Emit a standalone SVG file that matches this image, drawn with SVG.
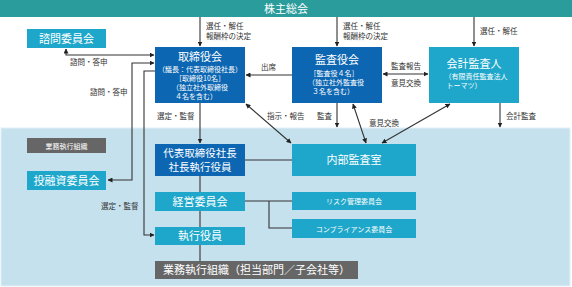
<svg xmlns="http://www.w3.org/2000/svg" width="572" height="287" viewBox="0 0 572 287">
<defs>
<marker id="ah" viewBox="0 0 10 10" refX="9" refY="5" markerWidth="5" markerHeight="5" orient="auto-start-reverse" markerUnits="userSpaceOnUse">
<path d="M0,0 L10,5 L0,10 z" fill="#222"/>
</marker>
<style>
text{font-family:"Noto Sans CJK JP","Noto Sans",sans-serif;}
.w{fill:#fff;text-anchor:middle;}
.lb{fill:#333;font-size:7.5px;}
.s{font-size:7px;}
.c{stroke:#333;stroke-width:1.1;fill:none;}
.a{marker-end:url(#ah);}
.b{marker-start:url(#ah);marker-end:url(#ah);}
.dk{fill:#0c66b2;}
.lt{fill:#1ea7ca;}
.gr{fill:#666;}
</style>
</defs>
<rect x="0" y="0" width="572" height="287" fill="#fff"/>
<rect x="1" y="128" width="569" height="158" fill="#c6e1ee" stroke="#e2f0f7" stroke-width="1"/>

<g id="shareholders">
<rect x="0" y="0" width="572" height="17" fill="#2b9c9c"/>
<text class="w" x="286" y="13" font-size="11">株主総会</text>
</g>

<g id="connectors">
<line class="c a" x1="200" y1="17" x2="200" y2="46"/>
<line class="c a" x1="337" y1="17" x2="337" y2="46"/>
<line class="c a" x1="474" y1="17" x2="474" y2="46"/>
<polyline class="c b" points="66,49 66,55 154,55"/>
<polyline class="c b" points="108,180 132,180 132,63 154,63"/>
<polyline class="c a" points="155,71 144,71 144,235 154,235"/>
<line class="c a" x1="200" y1="103" x2="200" y2="143"/>
<line class="c" x1="200" y1="176" x2="200" y2="261"/>
<line class="c a" x1="292" y1="75" x2="246" y2="75"/>
<line class="c b" x1="246" y1="104" x2="291" y2="143"/>
<line class="c a" x1="337" y1="103" x2="337" y2="127"/>
<line class="c b" x1="353" y1="104" x2="366" y2="143"/>
<line class="c b" x1="450" y1="104" x2="382" y2="143"/>
<line class="c b" x1="383" y1="74" x2="428" y2="74"/>
<line class="c a" x1="500" y1="103" x2="500" y2="127"/>
<line class="c" x1="245" y1="160" x2="292" y2="160"/>
<line class="c" x1="245" y1="201" x2="292" y2="201"/>
<polyline class="c" points="269,201 269,228 292,228"/>
</g>

<g id="labels">
<text class="lb" x="206" y="29">選任・解任</text>
<text class="lb" x="206" y="39">報酬枠の決定</text>
<text class="lb" x="343" y="29">選任・解任</text>
<text class="lb" x="343" y="39">報酬枠の決定</text>
<text class="lb" x="480" y="34">選任・解任</text>
<text class="lb" x="70" y="65">諮問・答申</text>
<text class="lb" x="90" y="95">諮問・答申</text>
<text class="lb" x="157" y="119">選定・監督</text>
<text class="lb" x="101" y="209">選定・監督</text>
<text class="lb" x="261" y="70">出席</text>
<text class="lb" x="267" y="119">指示・報告</text>
<text class="lb" x="317" y="119">監査</text>
<text class="lb" x="369" y="126">意見交換</text>
<text class="lb" x="391" y="69">監査報告</text>
<text class="lb" x="391" y="86">意見交換</text>
<text class="lb" x="506" y="119">会計監査</text>
</g>

<g id="advisory">
<rect class="lt" x="27" y="29" width="79" height="19"/>
<text class="w" x="66.5" y="43" font-size="11">諮問委員会</text>
</g>

<g id="board">
<rect class="dk" x="155" y="47" width="90" height="56"/>
<text class="w" x="200" y="61" font-size="11">取締役会</text>
<text class="w s" x="200" y="71.5">（議長：代表取締役社長）</text>
<text class="w s" x="200" y="80.5">［取締役10名］</text>
<text class="w s" x="200" y="89.5">（独立社外取締役</text>
<text class="w s" x="196" y="98.5">４名を含む）</text>
</g>

<g id="auditors">
<rect class="dk" x="292" y="47" width="90" height="56"/>
<text class="w" x="337" y="64" font-size="11">監査役会</text>
<text class="w s" x="334" y="75.5">［監査役４名］</text>
<text class="w s" x="336" y="84.5">（独立社外監査役</text>
<text class="w s" x="333" y="93.5">３名を含む）</text>
</g>

<g id="accounting-auditor">
<rect class="lt" x="429" y="47" width="90" height="56"/>
<text class="w" x="474" y="68" font-size="11">会計監査人</text>
<text class="w s" x="476" y="79">（有限責任監査法人</text>
<text class="w s" x="464" y="88">トーマツ）</text>
</g>

<g id="org-label">
<rect class="gr" x="27" y="138" width="79" height="15"/>
<text class="w s" x="66.5" y="148.5">業務執行組織</text>
</g>

<g id="investment">
<rect class="lt" x="27" y="171" width="79" height="19"/>
<text class="w" x="66.5" y="184.5" font-size="11">投融資委員会</text>
</g>

<g id="president">
<rect class="dk" x="155" y="144" width="90" height="32"/>
<text class="w" x="200" y="157" font-size="10.5">代表取締役社長</text>
<text class="w" x="200" y="171" font-size="10.5">社長執行役員</text>
</g>

<g id="management">
<rect class="lt" x="155" y="192" width="90" height="19"/>
<text class="w" x="200" y="205.5" font-size="11">経営委員会</text>
</g>

<g id="officers">
<rect class="lt" x="155" y="227" width="90" height="18"/>
<text class="w" x="200" y="240" font-size="11">執行役員</text>
</g>

<g id="execution">
<rect class="gr" x="155" y="261" width="203" height="18"/>
<text class="w" x="256.5" y="274" font-size="11">業務執行組織（担当部門／子会社等）</text>
</g>

<g id="internal-audit">
<rect class="lt" x="292" y="144" width="124" height="32"/>
<text class="w" x="354" y="164" font-size="11">内部監査室</text>
</g>

<g id="risk">
<rect class="lt" x="292" y="192" width="124" height="18"/>
<text class="w s" x="354" y="204">リスク管理委員会</text>
</g>

<g id="compliance">
<rect class="lt" x="292" y="219" width="124" height="19"/>
<text class="w s" x="354" y="231.5">コンプライアンス委員会</text>
</g>
</svg>
